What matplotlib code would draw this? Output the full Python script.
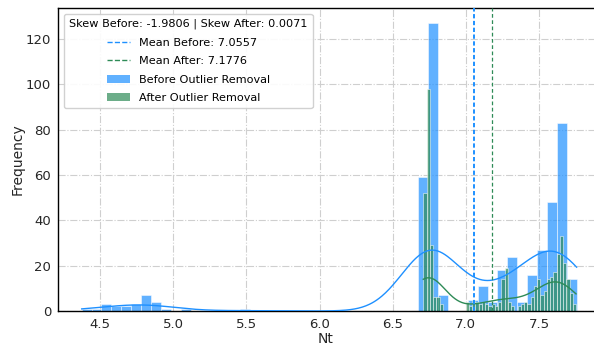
import numpy as np
import matplotlib
matplotlib.use("Agg")
import matplotlib.pyplot as plt
from matplotlib.patches import Patch
from matplotlib.lines import Line2D

# Nt histogram counts, before outlier removal (50 equal bins)
before_range = (4.374, 7.757)
before_counts = [1, 1, 3, 2, 2, 3, 7, 4, 1, 0,
                 1, 0, 0, 0, 0, 0, 1, 0, 0, 0,
                 0, 0, 0, 0, 0, 0, 0, 0, 0, 0,
                 0, 0, 0, 0, 59, 127, 7, 0, 0, 5,
                 11, 4, 18, 24, 4, 16, 27, 48, 83, 14]

# after outlier removal (47 equal bins)
after_range = (6.709, 7.753)
after_counts = [52, 98, 29, 6, 6, 3, 0, 0, 0, 0,
                0, 0, 0, 4, 2, 5, 4, 3, 4, 3,
                2, 3, 2, 4, 14, 19, 4, 2, 0, 2,
                3, 4, 3, 6, 11, 14, 7, 9, 14, 15,
                17, 25, 33, 21, 14, 8, 3]

mean_before = 7.0557
mean_after = 7.1776
skew_before = -1.9806
skew_after = 0.0071

BLUE = "dodgerblue"
GREEN = "seagreen"


def kde_counts(edges, counts):
    # gaussian kde (scott bandwidth) of binned data, scaled to bin counts
    centers = (edges[:-1] + edges[1:]) / 2
    w = np.asarray(counts, dtype=float)
    n = w.sum()
    mu = (w * centers).sum() / n
    sd = np.sqrt((w * (centers - mu) ** 2).sum() / n)
    bw = sd * n ** (-0.2)
    nz = np.nonzero(w)[0]
    xs = np.linspace(edges[nz[0]], edges[nz[-1] + 1], 400)
    z = (xs[:, None] - centers[None, :]) / bw
    dens = (w * np.exp(-0.5 * z ** 2)).sum(axis=1) / (np.sqrt(2 * np.pi) * bw)
    return xs, dens * (edges[1] - edges[0])


def draw_hist(ax, rng, counts, color):
    edges = np.linspace(rng[0], rng[1], len(counts) + 1)
    ax.bar(edges[:-1], counts, width=np.diff(edges), align="edge",
           color=color, alpha=0.7, edgecolor="white", linewidth=0.5, zorder=2)
    xs, ys = kde_counts(edges, counts)
    ax.plot(xs, ys, color=color, lw=1.0, zorder=3)


fig = plt.figure(figsize=(5.94, 3.47), dpi=100)
ax = fig.add_axes([58 / 594, 36 / 347, 1 - 58 / 594, 303.5 / 347])

draw_hist(ax, before_range, before_counts, BLUE)
draw_hist(ax, after_range, after_counts, GREEN)

ax.axvline(mean_before, color=BLUE, ls="--", lw=1.4, dashes=(2.2, 1.3), zorder=4)
ax.axvline(mean_after, color=GREEN, ls="--", lw=0.9, dashes=(3, 2), zorder=4)

ax.set_xlim(4.212, 7.876)
ax.set_ylim(0, 133.9)
ax.set_xticks([4.5, 5.0, 5.5, 6.0, 6.5, 7.0, 7.5])
ax.set_yticks(range(0, 121, 20))
ax.grid(True, ls="-.", color="#cfcfcf", lw=0.8, zorder=0)
ax.set_axisbelow(True)
ax.tick_params(length=0, pad=5, labelsize=9.5, labelcolor="#262626")
ax.set_xlabel("Nt", fontsize=10, color="#262626", labelpad=1)
ax.set_ylabel("Frequency", fontsize=10, color="#262626", labelpad=1)
for side in ["left", "bottom", "top"]:
    ax.spines[side].set_color("black")
    ax.spines[side].set_linewidth(1.0)
ax.spines["right"].set_visible(False)

handles = [
    Line2D([0], [0], color=BLUE, ls="--", lw=1.0),
    Line2D([0], [0], color=GREEN, ls="--", lw=1.0),
    Patch(facecolor=BLUE, alpha=0.7, edgecolor="none"),
    Patch(facecolor=GREEN, alpha=0.7, edgecolor="none"),
]
labels = [f"Mean Before: {mean_before:.4f}", f"Mean After: {mean_after:.4f}",
          "Before Outlier Removal", "After Outlier Removal"]
leg = ax.legend(handles, labels, loc="upper left", fontsize=8.1,
                title=f"Skew Before: {skew_before:.4f} | Skew After: {skew_after:.4f}",
                title_fontsize=8.1, framealpha=0.9, edgecolor="#cccccc",
                borderaxespad=0.55, labelspacing=0.75, handlelength=2.0,
                borderpad=0.45)

fig.savefig("out.png", dpi=100)
